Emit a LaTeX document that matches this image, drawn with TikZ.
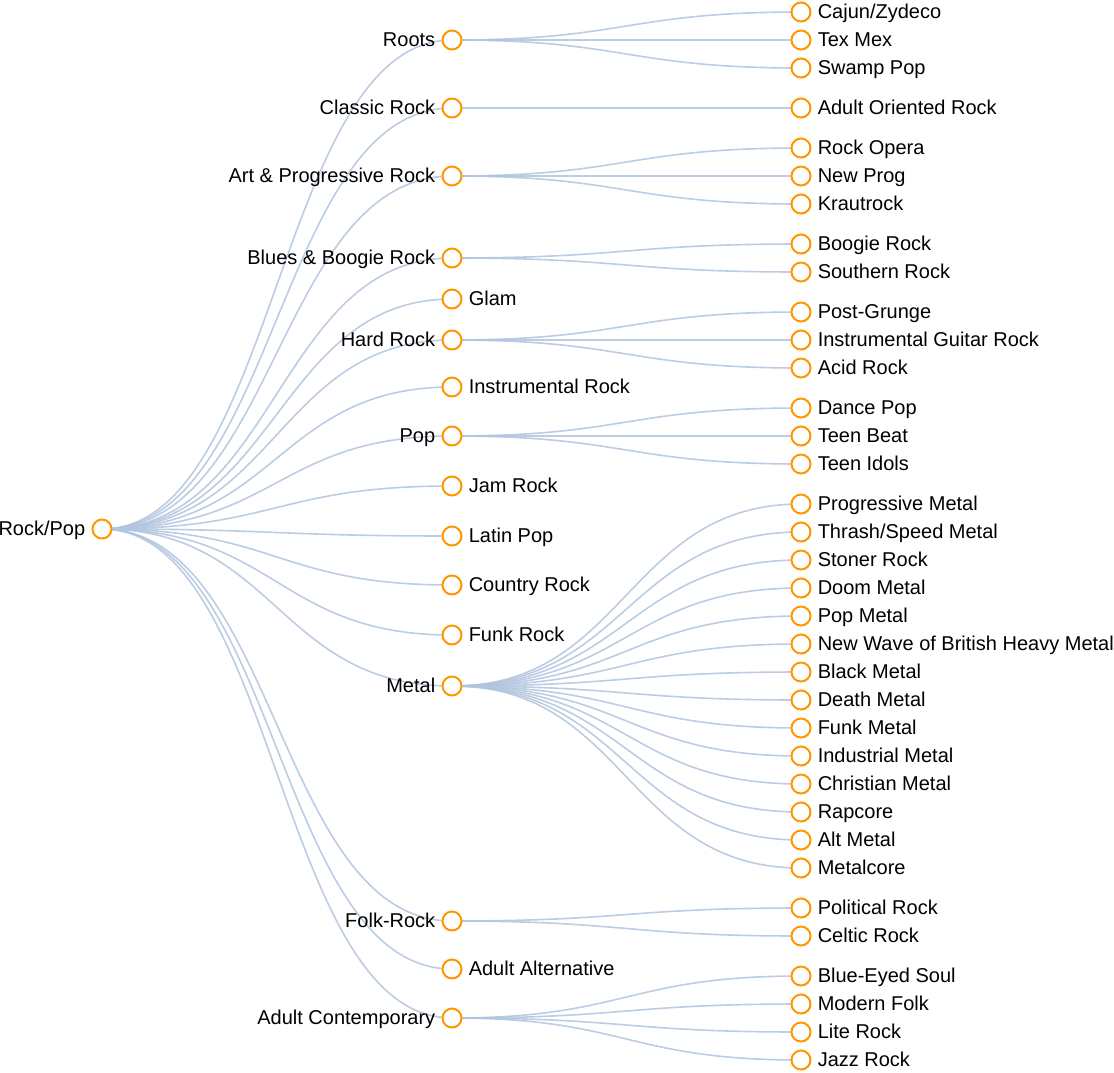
\documentclass[tikz,border=0pt]{standalone}
\usepackage{fontspec}
\setmainfont{Liberation Sans}
\usetikzlibrary{calc,backgrounds}
\definecolor{dotorange}{RGB}{255,152,0}
\definecolor{linkblue}{RGB}{176,196,222}
\tikzset{
  dot/.style={circle,draw=dotorange,fill=white,line width=1.5pt,inner sep=0pt,
    minimum size=14.25pt},
  lbl/.style={inner xsep=4.5pt,inner ysep=0pt,text height=13pt,text depth=3pt,
    font=\fontsize{15}{18}\selectfont},
  link/.style={draw=linkblue,draw opacity=0.85,line width=1.2pt}
}
\newcommand{\genrelink}[2]{%
  \path ($(#1.center)!0.5!(#2.center)$) coordinate (mid);
  \draw[link] (#1.center) .. controls (mid |- #1.center) and (mid |- #2.center) .. (#2.center);}
\begin{document}
\begin{tikzpicture}[x=0.75pt,y=-0.75pt]
        \useasboundingbox (0,0) rectangle (1114,1072);
        % root
        \node[dot,label={[lbl]left:Rock/Pop}] (root) at (102,529) {};
        % first level
        \node[dot,label={[lbl]left:Roots}] (roots) at (452,40) {};
        \node[dot,label={[lbl]left:Classic Rock}] (classic) at (452,108) {};
        \node[dot,label={[lbl]left:Art \& Progressive Rock}] (artprog) at (452,176) {};
        \node[dot,label={[lbl]left:Blues \& Boogie Rock}] (blues) at (452,258) {};
        \node[dot,label={[lbl]right:Glam}] (glam) at (452,299) {};
        \node[dot,label={[lbl]left:Hard Rock}] (hard) at (452,340) {};
        \node[dot,label={[lbl]right:Instrumental Rock}] (instr) at (452,387) {};
        \node[dot,label={[lbl]left:Pop}] (pop) at (452,436) {};
        \node[dot,label={[lbl]right:Jam Rock}] (jam) at (452,486) {};
        \node[dot,label={[lbl]right:Latin Pop}] (latin) at (452,536) {};
        \node[dot,label={[lbl]right:Country Rock}] (country) at (452,585) {};
        \node[dot,label={[lbl]right:Funk Rock}] (funk) at (452,635) {};
        \node[dot,label={[lbl]left:Metal}] (metal) at (452,686) {};
        \node[dot,label={[lbl]left:Folk-Rock}] (folk) at (452,921) {};
        \node[dot,label={[lbl]right:Adult Alternative}] (adultalt) at (452,969) {};
        \node[dot,label={[lbl]left:Adult Contemporary}] (adultcon) at (452,1018) {};
        % second level
        \node[dot,label={[lbl]right:Cajun/Zydeco}] (cajun) at (801,12) {};
        \node[dot,label={[lbl]right:Tex Mex}] (texmex) at (801,40) {};
        \node[dot,label={[lbl]right:Swamp Pop}] (swamp) at (801,68) {};
        \node[dot,label={[lbl]right:Adult Oriented Rock}] (aor) at (801,108) {};
        \node[dot,label={[lbl]right:Rock Opera}] (opera) at (801,148) {};
        \node[dot,label={[lbl]right:New Prog}] (newprog) at (801,176) {};
        \node[dot,label={[lbl]right:Krautrock}] (kraut) at (801,204) {};
        \node[dot,label={[lbl]right:Boogie Rock}] (boogie) at (801,244) {};
        \node[dot,label={[lbl]right:Southern Rock}] (southern) at (801,272) {};
        \node[dot,label={[lbl]right:Post-Grunge}] (postgrunge) at (801,312) {};
        \node[dot,label={[lbl]right:Instrumental Guitar Rock}] (guitar) at (801,340) {};
        \node[dot,label={[lbl]right:Acid Rock}] (acid) at (801,368) {};
        \node[dot,label={[lbl]right:Dance Pop}] (dancepop) at (801,408) {};
        \node[dot,label={[lbl]right:Teen Beat}] (teenbeat) at (801,436) {};
        \node[dot,label={[lbl]right:Teen Idols}] (teenidols) at (801,464) {};
        \node[dot,label={[lbl]right:Progressive Metal}] (progmetal) at (801,504) {};
        \node[dot,label={[lbl]right:Thrash/Speed Metal}] (thrash) at (801,532) {};
        \node[dot,label={[lbl]right:Stoner Rock}] (stoner) at (801,560) {};
        \node[dot,label={[lbl]right:Doom Metal}] (doom) at (801,588) {};
        \node[dot,label={[lbl]right:Pop Metal}] (popmetal) at (801,616) {};
        \node[dot,label={[lbl]right:New Wave of British Heavy Metal}] (nwobhm) at (801,644) {};
        \node[dot,label={[lbl]right:Black Metal}] (black) at (801,672) {};
        \node[dot,label={[lbl]right:Death Metal}] (death) at (801,700) {};
        \node[dot,label={[lbl]right:Funk Metal}] (funkmetal) at (801,728) {};
        \node[dot,label={[lbl]right:Industrial Metal}] (industrial) at (801,756) {};
        \node[dot,label={[lbl]right:Christian Metal}] (christian) at (801,784) {};
        \node[dot,label={[lbl]right:Rapcore}] (rapcore) at (801,812) {};
        \node[dot,label={[lbl]right:Alt Metal}] (altmetal) at (801,840) {};
        \node[dot,label={[lbl]right:Metalcore}] (metalcore) at (801,868) {};
        \node[dot,label={[lbl]right:Political Rock}] (political) at (801,908) {};
        \node[dot,label={[lbl]right:Celtic Rock}] (celtic) at (801,936) {};
        \node[dot,label={[lbl]right:Blue-Eyed Soul}] (blueeyed) at (801,976) {};
        \node[dot,label={[lbl]right:Modern Folk}] (modernfolk) at (801,1004) {};
        \node[dot,label={[lbl]right:Lite Rock}] (lite) at (801,1032) {};
        \node[dot,label={[lbl]right:Jazz Rock}] (jazz) at (801,1060) {};
        % links behind the dots
        \begin{scope}[on background layer]
          \foreach \a in {roots,classic,artprog,blues,glam,hard,instr,pop,jam,latin,
              country,funk,metal,folk,adultalt,adultcon}
            {\genrelink{root}{\a}}
          \foreach \a/\b in {roots/cajun,roots/texmex,roots/swamp,classic/aor,
              artprog/opera,artprog/newprog,artprog/kraut,blues/boogie,blues/southern,
              hard/postgrunge,hard/guitar,hard/acid,pop/dancepop,pop/teenbeat,pop/teenidols,
              folk/political,folk/celtic,adultcon/blueeyed,adultcon/modernfolk,
              adultcon/lite,adultcon/jazz}
            {\genrelink{\a}{\b}}
          \foreach \b in {progmetal,thrash,stoner,doom,popmetal,nwobhm,black,death,
              funkmetal,industrial,christian,rapcore,altmetal,metalcore}
            {\genrelink{metal}{\b}}
        \end{scope}
      \end{tikzpicture}
\end{document}
